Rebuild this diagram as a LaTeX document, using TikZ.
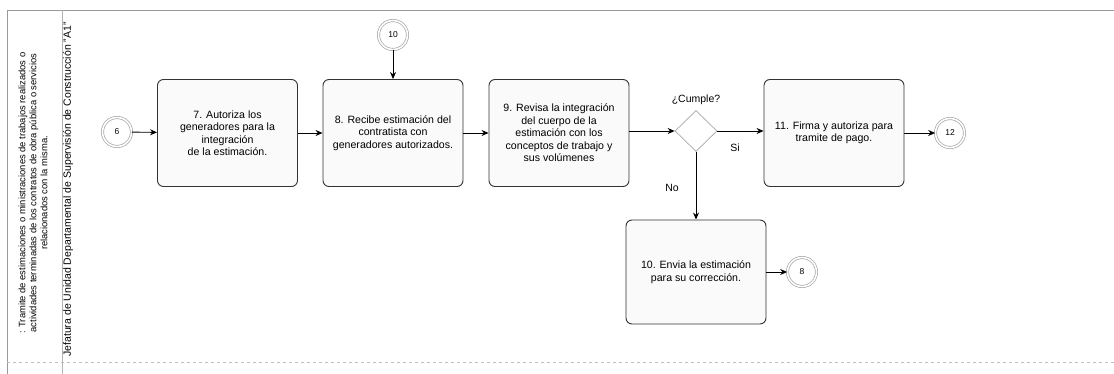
\documentclass[tikz,border=0pt]{standalone}
\usepackage{fontspec}
\setmainfont{Liberation Sans}
\usetikzlibrary{shapes.geometric,arrows.meta}
\tikzset{
  tarea/.style={draw=black!80, line width=0.9pt, rounded corners=6pt, fill=gray!4,
    minimum width=140pt, minimum height=107pt, align=center, inner sep=2pt,
    font=\fontsize{10.6}{12.5}\selectfont},
  evento/.style={circle, draw=gray!70, double=white, double distance=1.6pt,
    line width=0.7pt, minimum size=29pt, inner sep=0pt, font=\fontsize{8.5}{9}\selectfont},
  decision/.style={diamond, draw=gray!70, line width=0.7pt, minimum width=42pt,
    minimum height=41pt, inner sep=0pt},
  flecha/.style={line width=0.9pt, -{Stealth[length=7pt,width=6pt]}},
  marco/.style={draw=gray!80, line width=0.8pt},
  etiq/.style={font=\fontsize{10.5}{12}\selectfont}
}
\begin{document}
\begin{tikzpicture}[x=1pt, y=-1pt]
    \useasboundingbox (0,0) rectangle (1114,374);
    % marco del carril
    \draw[marco] (1114,10) -- (7,10) -- (7,374);
    \draw[marco, gray!60] (62,10) -- (62,374);
    \draw[marco, gray!50, dashed] (7,362) -- (1114,362);
    \node[rotate=90, align=center, font=\fontsize{9.4}{11}\selectfont] (proc) at (33,193)
        {: Tramite de estimaciones o ministraciones de trabajos realizados o\\
         actividades terminadas de los contratos de obra pública o servicios\\
         relacionados con la misma.};
    \node[rotate=90, anchor=east, inner sep=0pt, font=\fontsize{10.5}{12}\selectfont] (carril) at (68,22)
        {Jefatura de Unidad Departamental de Supervisión de Construcción ''A1''};
    % eventos
    \node[evento] (e6) at (117,132) {6};
    \node[evento] (e10) at (393,35) {10};
    \node[evento] (e12) at (950,133) {12};
    \node[evento] (e8) at (802,272) {8};
    % tareas
    \node[tarea] (t7) at (227.5,133) {7. Autoriza los\\generadores para la\\integración\\de la estimación.};
    \node[tarea] (t8) at (393,133) {8. Recibe estimación del\\contratista con\\generadores autorizados.};
    \node[tarea] (t9) at (559,133) {9. Revisa la integración\\del cuerpo de la\\estimación con los\\conceptos de trabajo y\\sus volúmenes};
    \node[decision] (d) at (696,131) {};
    \node[tarea] (t11) at (834,133) {11. Firma y autoriza para\\tramite de pago.};
    \node[tarea, minimum height=104pt] (t10) at (696,272) {10. Envia la estimación\\para su corrección.};
    \node[etiq] (lcumple) at (696,100) {¿Cumple?};
    \node[etiq] (lsi) at (735,148) {Si};
    \node[etiq] (lno) at (672,188) {No};
    % flechas
    \draw[flecha] (e6) -- (t7);
    \draw[flecha] (t7) -- (t8);
    \draw[flecha] (e10) -- (t8);
    \draw[flecha] (t8) -- (t9);
    \draw[flecha] (t9.east |- d) -- (d.west);
    \draw[flecha] (d.east) -- (t11.west |- d);
    \draw[flecha] (t11) -- (e12);
    \draw[flecha] (d.south) -- (t10.north);
    \draw[flecha] (t10) -- (e8);
\end{tikzpicture}
\end{document}
